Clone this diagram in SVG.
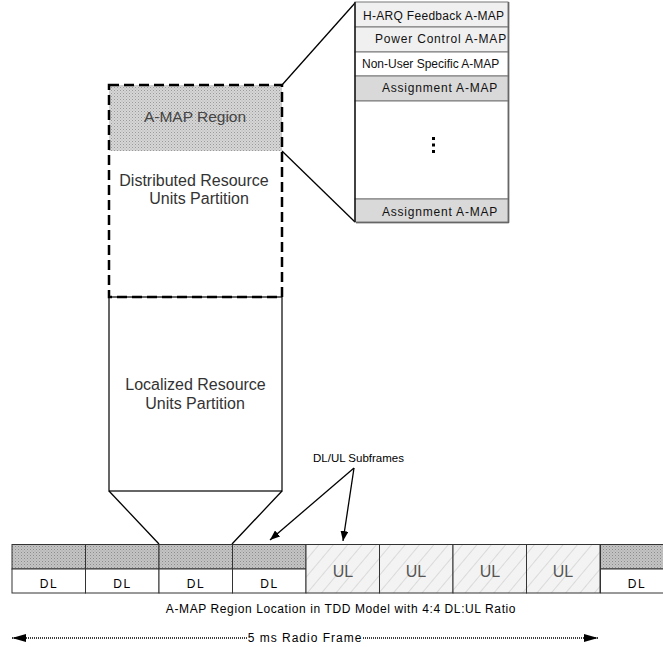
<svg xmlns="http://www.w3.org/2000/svg" width="663" height="647" viewBox="0 0 663 647">
<style>
text{font-family:"Liberation Sans",Arial,sans-serif;fill:#000}
.lbl{font-size:16px;text-anchor:middle;fill:#333}
.tb{font-size:12px;fill:#111;letter-spacing:0.8px}
.dl{font-size:12px;text-anchor:middle;letter-spacing:1.5px}
.ul{font-size:16px;text-anchor:middle;fill:#555}
.cell{stroke:#333;stroke-width:1}
.row{stroke:#777;stroke-width:1}
.ln{stroke:#000;stroke-width:1.3;fill:none}
</style>
<defs>
<pattern id="dots" width="3" height="3" patternUnits="userSpaceOnUse">
<rect width="3" height="3" fill="#d6d6d6"/>
<rect width="1" height="1" fill="#9a9a9a"/>
<rect x="1.5" y="1.5" width="1" height="1" fill="#b0b0b0"/>
</pattern>
<pattern id="dots2" width="3" height="3" patternUnits="userSpaceOnUse">
<rect width="3" height="3" fill="#c4c4c4"/>
<rect width="1" height="1" fill="#8c8c8c"/>
<rect x="1.5" y="1.5" width="1" height="1" fill="#a0a0a0"/>
</pattern>
<pattern id="hatch" width="11" height="11" patternUnits="userSpaceOnUse" patternTransform="rotate(40)">
<rect width="11" height="11" fill="#f3f3f3"/>
<line x1="0" y1="0" x2="0" y2="11" stroke="#c2c2c2" stroke-width="1"/>
</pattern>
<marker id="ah" viewBox="0 0 10 8" refX="10" refY="4" markerWidth="10" markerHeight="8" markerUnits="userSpaceOnUse" orient="auto">
<path d="M0,0 L10,4 L0,8 Z" fill="#000"/>
</marker>
<marker id="ah2" viewBox="0 0 14 8" refX="14" refY="4" markerWidth="14" markerHeight="8" markerUnits="userSpaceOnUse" orient="auto">
<path d="M0,0 L14,4 L0,8 Z" fill="#000"/>
</marker>
</defs>

<g id="connectors">
<line class="ln" x1="282" y1="85" x2="355" y2="3"/>
<line class="ln" x1="282" y1="151" x2="355" y2="222"/>
<line class="ln" x1="109" y1="491" x2="159" y2="544"/>
<line class="ln" x1="282" y1="491" x2="232" y2="544"/>
<line class="ln" x1="354" y1="468" x2="270" y2="540" marker-end="url(#ah)"/>
<line class="ln" x1="354" y1="468" x2="343" y2="541" marker-end="url(#ah)"/>
</g>

<g id="amap-table">
<rect class="row" x="355" y="2" width="153" height="25" fill="#f0f0f0"/>
<rect class="row" x="355" y="27" width="153" height="25" fill="#f0f0f0"/>
<rect class="row" x="355" y="52" width="153" height="24" fill="#ffffff"/>
<rect class="row" x="355" y="76" width="153" height="25" fill="#d9d9d9"/>
<rect class="row" x="355" y="101" width="153" height="98" fill="#ffffff"/>
<rect class="row" x="355" y="199" width="153" height="23" fill="#d9d9d9"/>
<text class="tb" x="363" y="20" style="letter-spacing:0.3px">H-ARQ Feedback A-MAP</text>
<text class="tb" x="441" y="43" text-anchor="middle">Power Control A-MAP</text>
<text class="tb" x="362" y="68" style="letter-spacing:0px">Non-User Specific A-MAP</text>
<text class="tb" x="440" y="92" text-anchor="middle">Assignment A-MAP</text>
<text class="tb" x="440" y="216" text-anchor="middle">Assignment A-MAP</text>
<rect x="432" y="137" width="3" height="3" fill="#000"/>
<rect x="432" y="143.5" width="3" height="3" fill="#000"/>
<rect x="432" y="150" width="3" height="3" fill="#000"/>
<line x1="355" y1="2" x2="355" y2="222" stroke="#000" stroke-width="1.3"/>
<polyline points="356,222.8 508.8,222.8 508.8,2" fill="none" stroke="#444" stroke-width="1"/>
</g>

<g id="dru">
<rect x="109" y="85" width="173" height="66" fill="url(#dots)"/>
<text class="lbl" x="195" y="122" style="font-size:15.5px;fill:#444">A-MAP Region</text>
<text class="lbl" x="194" y="186">Distributed Resource</text>
<text class="lbl" x="199" y="204">Units Partition</text>
<rect x="109" y="85" width="173" height="212" fill="none" stroke="#000" stroke-width="2.5" stroke-dasharray="10,5"/>
</g>

<g id="lru">
<rect x="109" y="297" width="173" height="194" fill="none" stroke="#000" stroke-width="1.2"/>
<text class="lbl" x="195.5" y="390">Localized Resource</text>
<text class="lbl" x="195" y="409">Units Partition</text>
</g>

<g id="frame">
<rect class="cell" x="12" y="544.5" width="73.5" height="24.5" fill="url(#dots2)"/>
<rect class="cell" x="12" y="569" width="73.5" height="24" fill="#fff"/>
<text class="dl" x="49" y="588">DL</text>
<rect class="cell" x="85.5" y="544.5" width="73.5" height="24.5" fill="url(#dots2)"/>
<rect class="cell" x="85.5" y="569" width="73.5" height="24" fill="#fff"/>
<text class="dl" x="122.5" y="588">DL</text>
<rect class="cell" x="159" y="544.5" width="73.5" height="24.5" fill="url(#dots2)"/>
<rect class="cell" x="159" y="569" width="73.5" height="24" fill="#fff"/>
<text class="dl" x="196" y="588">DL</text>
<rect class="cell" x="232.5" y="544.5" width="73.5" height="24.5" fill="url(#dots2)"/>
<rect class="cell" x="232.5" y="569" width="73.5" height="24" fill="#fff"/>
<text class="dl" x="269.5" y="588">DL</text>
<rect class="cell" x="306" y="544.5" width="73.5" height="48.5" fill="url(#hatch)"/>
<text class="ul" x="343" y="577">UL</text>
<rect class="cell" x="379.5" y="544.5" width="73.5" height="48.5" fill="url(#hatch)"/>
<text class="ul" x="416" y="577">UL</text>
<rect class="cell" x="453" y="544.5" width="73.5" height="48.5" fill="url(#hatch)"/>
<text class="ul" x="490" y="577">UL</text>
<rect class="cell" x="526.5" y="544.5" width="73.5" height="48.5" fill="url(#hatch)"/>
<text class="ul" x="563" y="577">UL</text>
<rect class="cell" x="600.5" y="544.5" width="73.5" height="24.5" fill="url(#dots2)"/>
<rect class="cell" x="600.5" y="569" width="73.5" height="24" fill="#fff"/>
<text class="dl" x="637" y="588">DL</text>
</g>

<g id="labels">
<text x="313" y="462" font-size="11.5">DL/UL Subframes</text>
<text x="341" y="613" font-size="12" text-anchor="middle" letter-spacing="0.6">A-MAP Region Location in TDD Model with 4:4 DL:UL Ratio</text>
</g>

<g id="radio-frame">
<line x1="247" y1="638" x2="12" y2="638" stroke="#000" stroke-width="1.5" stroke-dasharray="1,1" marker-end="url(#ah2)"/>
<line x1="363" y1="638" x2="598" y2="638" stroke="#000" stroke-width="1.5" stroke-dasharray="1,1" marker-end="url(#ah2)"/>
<text x="305" y="642" font-size="12" text-anchor="middle" letter-spacing="1">5 ms Radio Frame</text>
</g>
</svg>
